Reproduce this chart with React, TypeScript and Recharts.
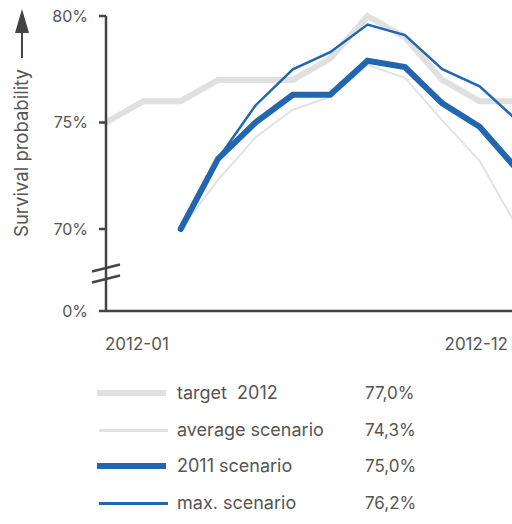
import { LineChart, Line, XAxis, YAxis, ReferenceDot } from 'recharts'

const months = [
  '2012-01', '2012-02', '2012-03', '2012-04', '2012-05', '2012-06',
  '2012-07', '2012-08', '2012-09', '2012-10', '2012-11', '2012-12',
]
const target2012 = [75.0, 76.0, 76.0, 77.0, 77.0, 77.0, 78.0, 80.0, 79.0, 77.0, 76.0, 76.0]
const averageScenario = [null, null, 70.0, 72.3, 74.3, 75.6, 76.2, 77.7, 77.1, 75.1, 73.2, 70.1]
const scenario2011 = [null, null, 70.0, 73.3, 75.0, 76.3, 76.3, 77.9, 77.6, 75.9, 74.8, 72.8]
const maxScenario = [null, null, 70.0, 73.3, 75.8, 77.5, 78.3, 79.6, 79.1, 77.5, 76.7, 75.1]

const seriesNames = ['target  2012', 'average scenario', '2011 scenario', 'max. scenario']
const seriesTotals = [77.0, 74.3, 75.0, 76.2]
const yTickValues = [0, 70, 75, 80]

// broken axis: everything below 70% is squeezed into a short gap
const BREAK_FLOOR = 70
const BREAK_GAP = 3.85
const BREAK_MARK = 32 // where the // marks sit, in % of the squeezed part

const toDisplay = (v: number | null) => {
  if (v === null) return null
  if (v < BREAK_FLOOR) return -BREAK_GAP + (v / BREAK_FLOOR) * BREAK_GAP
  return v - BREAK_FLOOR
}

const series = [
  { key: 'target', values: target2012, color: '#e0e0e0', width: 6 },
  { key: 'average', values: averageScenario, color: '#e2e2e2', width: 2 },
  { key: 's2011', values: scenario2011, color: '#2166ae', width: 6 },
  { key: 'max', values: maxScenario, color: '#2166ae', width: 2.5 },
]

const data = months.map((m, i) => {
  const row: Record<string, string | number | null> = { month: m }
  series.forEach(s => { row[s.key] = toDisplay(s.values[i]) })
  return row
})

const yTicks = yTickValues.map(v => toDisplay(v) as number)
const fmtPct = (v: number) => `${Math.round(v)}%`
const fmtTotal = (v: number) => `${v.toFixed(1).replace('.', ',')}%`

const TEXT = '#555'
const AXIS = '#444'
const FONT = 'Inter, "Noto Sans", sans-serif'

function MonthTick(props: any) {
  const { x, y, payload } = props
  const first = payload.value === months[0]
  return (
    <text
      x={first ? x - 1 : x - 9}
      y={y + 31}
      textAnchor={first ? 'start' : 'end'}
      fill={TEXT}
      fontSize={17}
      fontFamily={FONT}
    >
      {payload.value}
    </text>
  )
}

function BreakMarks(props: any) {
  const { cx, cy } = props
  return (
    <g stroke={AXIS} strokeWidth={2.5}>
      <line x1={cx - 14} y1={cy - 2} x2={cx + 14} y2={cy - 9} />
      <line x1={cx - 14} y1={cy + 9} x2={cx + 14} y2={cy + 2} />
    </g>
  )
}

export default function App() {
  return (
    <div style={{ position: 'fixed', left: 0, top: 0, width: 512, height: 524, overflow: 'hidden', background: '#fff', fontFamily: FONT }}>
      <LineChart width={560} height={360} data={data} margin={{ top: 16, right: 43, bottom: 0, left: 0 }}>
        <XAxis
          dataKey="month"
          ticks={[months[0], months[months.length - 1]]}
          interval={0}
          tick={<MonthTick />}
          tickLine={false}
          height={49}
          axisLine={{ stroke: AXIS, strokeWidth: 2.5 }}
        />
        <YAxis
          type="number"
          domain={[-BREAK_GAP, 10]}
          ticks={yTicks}
          interval={0}
          width={106}
          tickSize={7}
          tickMargin={11}
          tickFormatter={(v: number) => fmtPct(yTickValues[yTicks.indexOf(v)])}
          tick={{ fill: TEXT, fontSize: 16, fontFamily: FONT }}
          tickLine={{ stroke: AXIS, strokeWidth: 2.5 }}
          axisLine={{ stroke: AXIS, strokeWidth: 2.5 }}
        />
        <ReferenceDot
          x={months[0]}
          y={toDisplay(BREAK_MARK) as number}
          ifOverflow="visible"
          shape={<BreakMarks />}
        />
        {series.map(s => (
          <Line
            key={s.key}
            dataKey={s.key}
            stroke={s.color}
            strokeWidth={s.width}
            strokeLinecap="round"
            dot={false}
            activeDot={false}
            isAnimationActive={false}
          />
        ))}
      </LineChart>

      <svg width={40} height={250} style={{ position: 'absolute', left: 0, top: 0 }}>
        <line x1={22} y1={58} x2={22} y2={30} stroke={AXIS} strokeWidth={2} />
        <polygon points="15,33 29,33 22,9" fill={AXIS} />
        <text
          x={21}
          y={153}
          transform="rotate(-90 21 153)"
          textAnchor="middle"
          dominantBaseline="central"
          fill={TEXT}
          fontSize={18.5}
          fontFamily={FONT}
        >
          Survival probability
        </text>
      </svg>

      {series.map((s, i) => (
        <div
          key={s.key}
          style={{ position: 'absolute', left: 0, top: [393, 430, 466, 503][i] - 12, height: 24, width: 512, color: TEXT }}
        >
          <div style={{ position: 'absolute', left: s.width > 3 ? 97 : 99, width: 69, height: s.width > 3 ? 6 : 3, background: s.color, top: s.width > 3 ? 9 : 10.5 }} />
          <span style={{ position: 'absolute', left: 177, top: 0, lineHeight: '24px', fontSize: 18, whiteSpace: 'pre' }}>{seriesNames[i]}</span>
          <span style={{ position: 'absolute', left: 365, top: 0, lineHeight: '24px', fontSize: 17 }}>{fmtTotal(seriesTotals[i])}</span>
        </div>
      ))}
    </div>
  )
}
